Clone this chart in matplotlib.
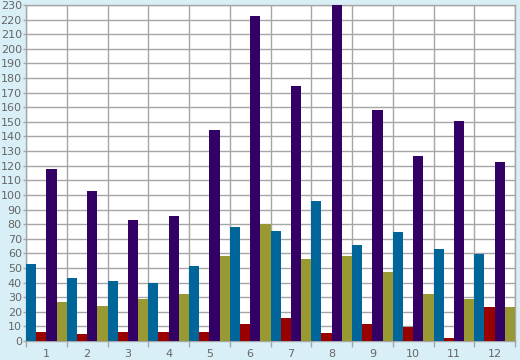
import matplotlib
matplotlib.use("Agg")
import matplotlib.pyplot as plt
import numpy as np

categories = ["1", "2", "3", "4", "5", "6", "7", "8", "9", "10", "11", "12"]
series_a = [53, 43, 41, 39.5, 51, 78, 75, 95.5, 65.5, 74.5, 63, 59.5]      # teal
series_b = [6, 5, 6.5, 6.5, 6.5, 11.5, 16, 5.5, 11.5, 9.5, 2, 23]          # red
series_c = [118, 102.5, 82.5, 85.5, 144.5, 222.5, 174.5, 230, 158, 126.5, 150.5, 122.5]  # purple
series_d = [27, 24, 29, 32, 58, 80, 56, 58, 47.5, 32, 29, 23]              # olive
yticks = list(range(0, 240, 10))

colors = ["#006699", "#990000", "#330066", "#999933"]
bg = "#d9eff7"
grid = "#a6a6a6"
txt = "#666666"

fig = plt.figure(figsize=(5.2, 3.6), dpi=100, facecolor=bg)
ax = fig.add_axes([26/520, 19/360, (515-26)/520, (341-5)/360])
ax.set_facecolor("white")

x = np.arange(len(categories))
w = 0.25
for i, (vals, c) in enumerate(zip([series_a, series_b, series_c, series_d], colors)):
    ax.bar(x + (i - 1.5) * w, vals, width=w, color=c, linewidth=0, zorder=3)

ax.set_xlim(-0.5, len(categories) - 0.5)
ax.set_ylim(0, 230)
ax.set_yticks(yticks)
ax.set_yticklabels([str(t) for t in yticks], fontsize=8, color=txt)
ax.set_xticks(x)
ax.set_xticklabels(categories, fontsize=8, color=txt)
ax.set_xticks(np.arange(-0.5, len(categories)), minor=True)
ax.tick_params(axis="x", which="major", length=0, pad=6)
ax.tick_params(axis="x", which="minor", length=4, color=grid, width=1)
ax.tick_params(axis="y", length=2, color=grid, width=1, pad=1)
ax.grid(True, axis="y", color=grid, linewidth=1, zorder=0)
ax.grid(True, axis="x", which="minor", color=grid, linewidth=1, zorder=0)
for s in ax.spines.values():
    s.set_color(grid)
    s.set_linewidth(1)

fig.savefig("out.png", dpi=100, facecolor=bg)
